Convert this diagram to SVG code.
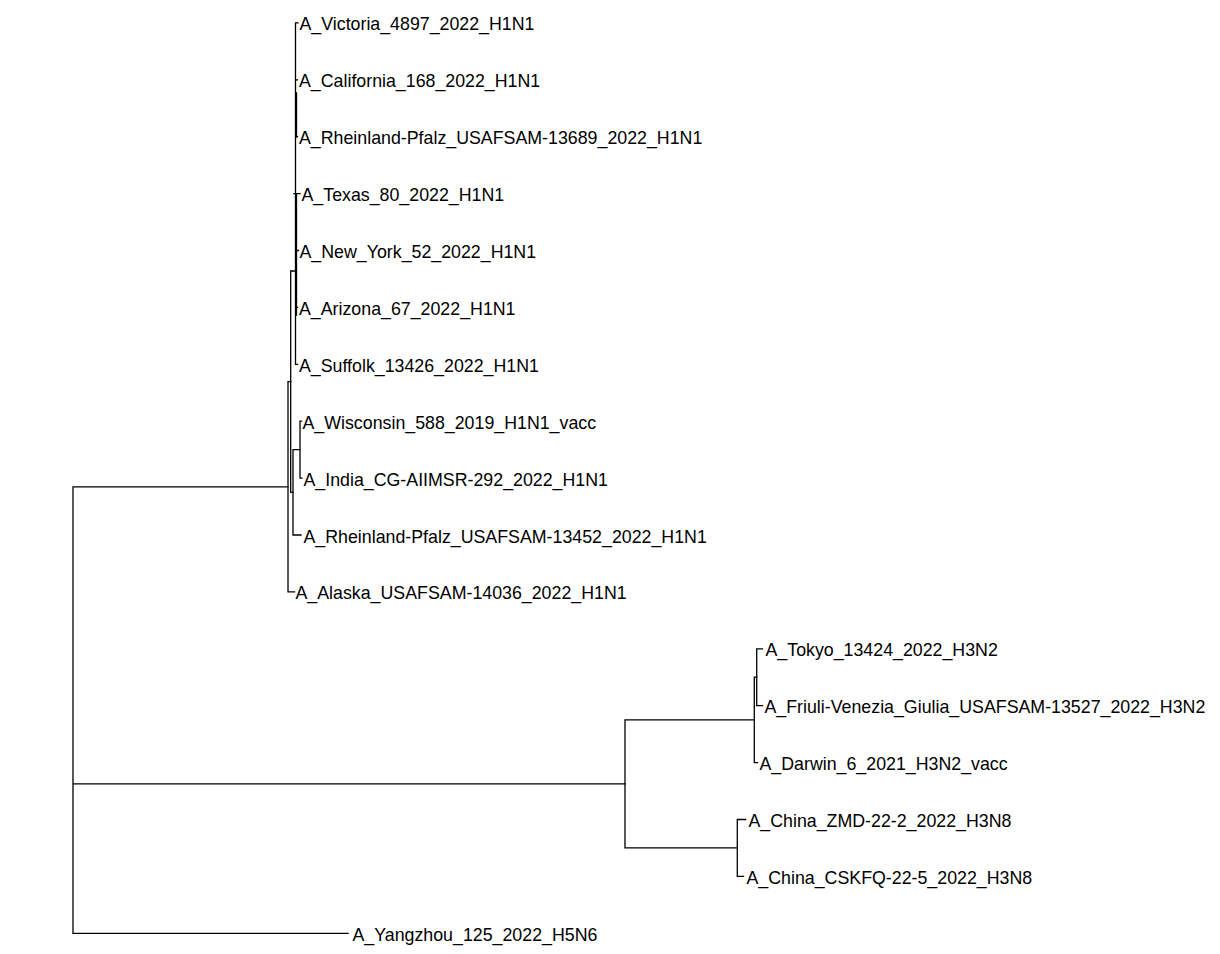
<svg xmlns="http://www.w3.org/2000/svg" width="1220" height="954" viewBox="0 0 1220 954">
<style>
.br{fill:none;stroke:#000;stroke-width:1.3;stroke-linecap:square}
.lb{font-family:"Liberation Sans",Arial,sans-serif;font-size:17.8px;fill:#000}
</style>
<rect width="1220" height="954" fill="#fff"/>
<g id="connectors">
<path class="br" d="M73,486.8V933.3M73,486.8H288M73,783.9H625M73,933.3H348"/>
<path class="br" d="M288,381.6V591.9M288,591.9H294.5M288,381.6H290.7"/>
<path class="br" d="M290.7,271V492.3M290.7,492.3H293M290.7,271H295.5"/>
<path class="br" d="M293,449.6V535M293,449.6H300M293,535H301"/>
<path class="br" d="M300,421.2V478.1M300,421.2H301.5M300,478.1H302"/>
<path class="br" d="M295.5,22.9V364.3M295.5,22.9H298M295.5,79.8H297.5M296.5,93V137M296.5,136.7H297.5M294,193.6H300M296.5,193.6V315M296.5,250.5H298.5M296.5,307.4H297.5M295.5,364.3H297.5"/>
<path class="br" d="M625,719.9V847.9M625,719.9H754.3M625,847.9H737.3"/>
<path class="br" d="M754.3,677.2V762.6M754.3,677.2H756.7M754.3,762.6H757.5"/>
<path class="br" d="M756.7,648.8V705.7M756.7,648.8H762.5M756.7,705.7H762.5"/>
<path class="br" d="M737.3,819.5V876.4M737.3,819.5H745.7M737.3,876.4H743.5"/>
</g>
<g id="tip-victoria"><text class="lb" x="299.5" y="30.4">A_Victoria_4897_2022_H1N1</text></g>
<g id="tip-california"><text class="lb" x="299" y="87.3">A_California_168_2022_H1N1</text></g>
<g id="tip-rheinland-13689"><text class="lb" x="299" y="144.2">A_Rheinland-Pfalz_USAFSAM-13689_2022_H1N1</text></g>
<g id="tip-texas"><text class="lb" x="301.5" y="201.1">A_Texas_80_2022_H1N1</text></g>
<g id="tip-newyork"><text class="lb" x="299.5" y="258">A_New_York_52_2022_H1N1</text></g>
<g id="tip-arizona"><text class="lb" x="299" y="314.9">A_Arizona_67_2022_H1N1</text></g>
<g id="tip-suffolk"><text class="lb" x="299" y="371.8">A_Suffolk_13426_2022_H1N1</text></g>
<g id="tip-wisconsin"><text class="lb" x="302.5" y="428.7">A_Wisconsin_588_2019_H1N1_vacc</text></g>
<g id="tip-india"><text class="lb" x="303.5" y="485.6">A_India_CG-AIIMSR-292_2022_H1N1</text></g>
<g id="tip-rheinland-13452"><text class="lb" x="303.5" y="542.5">A_Rheinland-Pfalz_USAFSAM-13452_2022_H1N1</text></g>
<g id="tip-alaska"><text class="lb" x="295.5" y="599.4">A_Alaska_USAFSAM-14036_2022_H1N1</text></g>
<g id="tip-tokyo"><text class="lb" x="765.5" y="656.3">A_Tokyo_13424_2022_H3N2</text></g>
<g id="tip-friuli"><text class="lb" x="764.5" y="713.2">A_Friuli-Venezia_Giulia_USAFSAM-13527_2022_H3N2</text></g>
<g id="tip-darwin"><text class="lb" x="759.5" y="770.1">A_Darwin_6_2021_H3N2_vacc</text></g>
<g id="tip-china-zmd"><text class="lb" x="748.5" y="827">A_China_ZMD-22-2_2022_H3N8</text></g>
<g id="tip-china-cskfq"><text class="lb" x="746.5" y="883.9">A_China_CSKFQ-22-5_2022_H3N8</text></g>
<g id="tip-yangzhou"><text class="lb" x="352.5" y="940.8">A_Yangzhou_125_2022_H5N6</text></g>
</svg>
